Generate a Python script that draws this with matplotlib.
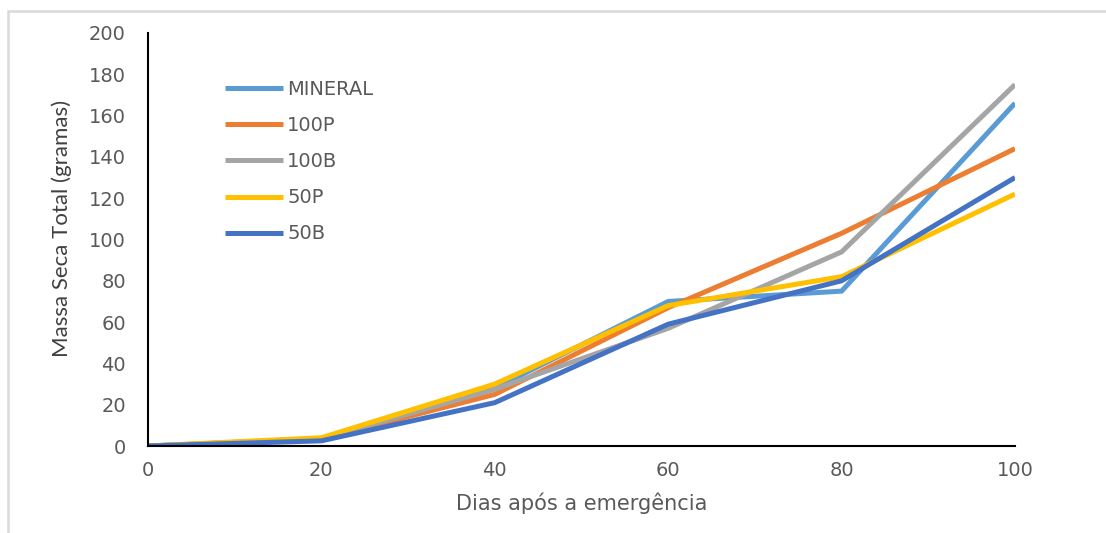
import matplotlib.pyplot as plt
from matplotlib.patches import Rectangle

dias = [0, 20, 40, 60, 80, 100]
mineral = [0, 3, 28, 70, 75, 166]
p100 = [0, 3.5, 25, 67, 103, 144]
b100 = [0, 3.5, 27.5, 57, 94, 175]
p50 = [0, 4, 30, 68, 82, 122]
b50 = [0, 2.5, 21, 59, 80, 130]

series = [
    ('MINERAL', mineral, '#5B9BD5'),
    ('100P', p100, '#ED7D31'),
    ('100B', b100, '#A5A5A5'),
    ('50P', p50, '#FFC000'),
    ('50B', b50, '#4472C4'),
]

plt.rcParams['font.family'] = ['DejaVu Sans']

fig = plt.figure(figsize=(11.06, 5.33), dpi=100)
ax = fig.add_axes([148 / 1106, 1 - 446 / 533, 867 / 1106, 413 / 533])

for nome, valores, cor in series:
    ax.plot(dias, valores, color=cor, linewidth=3.6, label=nome,
            solid_capstyle='butt', solid_joinstyle='miter')

ax.set_xlim(0, 100)
ax.set_ylim(0, 200)
ax.set_xticks(range(0, 101, 20))
ax.set_yticks(range(0, 201, 20))
ax.tick_params(length=0, labelsize=14, labelcolor='#595959')
ax.tick_params(axis='x', pad=11)
ax.tick_params(axis='y', pad=16)

for lado in ['top', 'right']:
    ax.spines[lado].set_visible(False)
ax.spines['left'].set_color('black')
ax.spines['bottom'].set_color('black')
ax.spines['left'].set_linewidth(1.5)
ax.spines['bottom'].set_linewidth(1.5)

ax.set_xlabel('Dias após a emergência', fontsize=15, color='#595959', labelpad=9)
ax.set_ylabel('Massa Seca Total (gramas)', fontsize=16, color='#404040',
              family=['Lato', 'DejaVu Sans'])
ax.yaxis.set_label_coords(-0.088, 0.527)

leg = ax.legend(loc='upper left', bbox_to_anchor=(225 / 1106, 1 - 80 / 533),
                bbox_transform=fig.transFigure, frameon=False, fontsize=14,
                handlelength=3.0, handletextpad=0.2, labelspacing=0.88,
                borderpad=0, borderaxespad=0)
for txt in leg.get_texts():
    txt.set_color('#595959')

borda = Rectangle((8 / 1106, -0.1), 1.2, 1 - 11 / 533 + 0.1,
                  transform=fig.transFigure, fill=False,
                  edgecolor='#D9D9D9', linewidth=1.8)
fig.patches.append(borda)

fig.savefig('out.png', dpi=100)
